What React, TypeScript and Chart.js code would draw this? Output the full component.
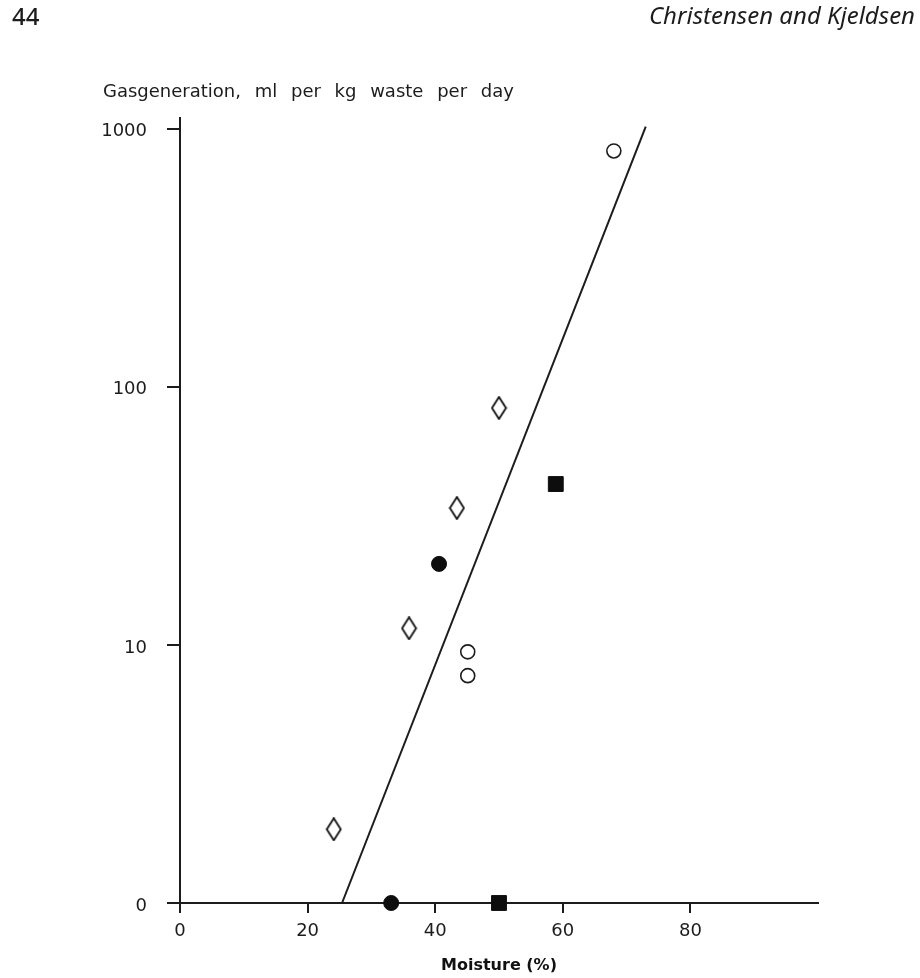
import React, { useEffect, useRef } from "react";
import { Chart, registerables } from "chart.js";

Chart.register(...registerables);

// ---- data ----
const xTicks = [0, 20, 40, 60, 80];
const yTicks = [1, 10, 100, 1000];
const yTickLabels = ["0", "10", "100", "1000"];

const openCircleX = [45.1, 45.1, 68.0];
const openCircleY = [9.4, 7.6, 820];
const diamondX = [24.1, 35.9, 43.4, 50.0];
const diamondY = [1.93, 11.6, 33.9, 82.8];
const filledCircleX = [33.1, 40.6];
const filledCircleY = [1, 20.6];
const squareX = [50.0, 58.9];
const squareY = [1, 42];
const fitX = [25.4, 73.0];
const fitY = [1, 1018];

const pageNumber = "44";
const runningHead = "Christensen and Kjeldsen";
const yTitle = "Gasgeneration, ml per kg waste per day";
const xTitle = "Moisture (%)";

const INK = "#1c1c1c";
const FONT = "'DejaVu Sans', sans-serif";

const pts = (xs: number[], ys: number[]) => xs.map((x, i) => ({ x, y: ys[i] }));

function makeDiamond(): HTMLCanvasElement {
  const w = 17;
  const h = 24;
  const c = document.createElement("canvas");
  c.width = w;
  c.height = h;
  const ctx = c.getContext("2d")!;
  ctx.beginPath();
  ctx.moveTo(w / 2, 1);
  ctx.lineTo(w - 1.5, h / 2);
  ctx.lineTo(w / 2, h - 1);
  ctx.lineTo(1.5, h / 2);
  ctx.closePath();
  ctx.fillStyle = "#fff";
  ctx.fill();
  ctx.lineWidth = 1.8;
  ctx.strokeStyle = "#111";
  ctx.stroke();
  return c;
}

const textPlugin = {
  id: "pageText",
  afterDraw(chart: any) {
    const { ctx, chartArea } = chart;
    ctx.save();
    ctx.fillStyle = INK;
    ctx.textBaseline = "middle";
    ctx.font = "500 24px 'Noto Sans', sans-serif";
    ctx.textAlign = "left";
    ctx.fillText(pageNumber, 12, 18);
    ctx.font = "italic 24px 'Noto Sans', sans-serif";
    ctx.textAlign = "right";
    ctx.fillText(runningHead, 915, 17);
    ctx.font = `18px ${FONT}`;
    ctx.textAlign = "left";
    try {
      (ctx as any).wordSpacing = "8px";
    } catch (e) {}
    ctx.fillText(yTitle, chartArea.left - 77, chartArea.top - 26);
    ctx.restore();
  },
};

export default function App() {
  const ref = useRef<HTMLCanvasElement | null>(null);

  useEffect(() => {
    if (!ref.current) return;
    const diamond = makeDiamond();
    const chart = new Chart(ref.current, {
      type: "scatter",
      data: {
        datasets: [
          {
            label: "open circles",
            data: pts(openCircleX, openCircleY),
            pointStyle: "circle",
            pointRadius: 7,
            pointBackgroundColor: "#fff",
            pointBorderColor: INK,
            pointBorderWidth: 1.6,
            clip: false,
          } as any,
          {
            label: "diamonds",
            data: pts(diamondX, diamondY),
            pointStyle: diamond,
            pointRadius: 10,
            clip: false,
          } as any,
          {
            label: "filled circles",
            data: pts(filledCircleX, filledCircleY),
            pointStyle: "circle",
            pointRadius: 7.5,
            pointBackgroundColor: "#0d0d0d",
            pointBorderColor: "#0d0d0d",
            pointBorderWidth: 1,
            clip: false,
          } as any,
          {
            label: "squares",
            data: pts(squareX, squareY),
            pointStyle: "rect",
            pointRadius: 10.5,
            pointBackgroundColor: "#0d0d0d",
            pointBorderColor: "#0d0d0d",
            pointBorderWidth: 1,
            clip: false,
          } as any,
          {
            label: "fit",
            data: pts(fitX, fitY),
            showLine: true,
            pointRadius: 0,
            borderColor: INK,
            borderWidth: 2,
            clip: false,
          } as any,
        ],
      },
      options: {
        animation: false,
        responsive: false,
        devicePixelRatio: 1,
        events: [],
        layout: { padding: { left: 0, right: 102, top: 118, bottom: 0 } },
        plugins: {
          legend: { display: false },
          tooltip: { enabled: false },
          title: { display: false },
        },
        scales: {
          x: {
            type: "linear",
            min: 0,
            max: 100,
            afterBuildTicks: (s: any) => {
              s.ticks = xTicks.map((v) => ({ value: v }));
            },
            afterFit: (s: any) => {
              s.height = 75;
            },
            grid: {
              drawOnChartArea: false,
              drawTicks: true,
              tickLength: 10,
              color: INK,
              lineWidth: 2,
            },
            border: { display: true, color: INK, width: 2 },
            ticks: {
              color: INK,
              font: { family: FONT, size: 18 },
              padding: 8,
              maxRotation: 0,
              autoSkip: false,
            },
            title: {
              display: true,
              text: xTitle,
              color: "#111",
              font: { family: FONT, size: 16, weight: "bold" },
              padding: { top: 0, bottom: 3 },
            },
          },
          y: {
            type: "logarithmic",
            min: 1,
            max: 1100,
            afterBuildTicks: (s: any) => {
              s.ticks = yTicks.map((v) => ({ value: v }));
            },
            afterFit: (s: any) => {
              s.width = 180;
            },
            grid: {
              drawOnChartArea: false,
              drawTicks: true,
              tickLength: 13,
              color: INK,
              lineWidth: 2,
            },
            border: { display: true, color: INK, width: 2 },
            ticks: {
              color: INK,
              font: { family: FONT, size: 18 },
              padding: 20,
              labelOffset: 3,
              autoSkip: false,
              callback: (v: any) => {
                const i = yTicks.indexOf(Number(v));
                return i >= 0 ? yTickLabels[i] : "";
              },
            },
          },
        },
      } as any,
      plugins: [textPlugin],
    });
    return () => chart.destroy();
  }, []);

  return (
    <div style={{ position: "absolute", left: 0, top: 0, width: 920, height: 978, background: "#fff" }}>
      <canvas ref={ref} width={920} height={978} style={{ display: "block" }} />
    </div>
  );
}
